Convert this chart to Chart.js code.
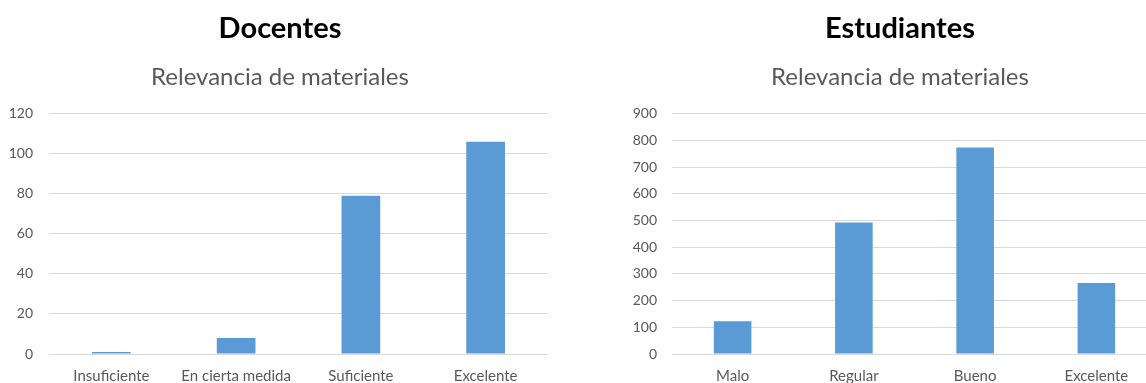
<!DOCTYPE html>
<html>
<head>
<meta charset="utf-8">
<script src="https://cdn.jsdelivr.net/npm/chart.js@4/dist/chart.umd.min.js"></script>
<style>
  html, body { margin: 0; padding: 0; width: 1146px; height: 383px; overflow: hidden; background: #fff; }
  .box { position: absolute; top: 0; height: 383px; }
  #b1 { left: 0; width: 560px; }
  #b2 { left: 631px; width: 538px; }
</style>
</head>
<body>
<div class="box" id="b1"><canvas id="c1"></canvas></div>
<div class="box" id="b2"><canvas id="c2"></canvas></div>
<script>
const docentesTitle = "Docentes";
const estudiantesTitle = "Estudiantes";
const subtitleText = "Relevancia de materiales";
const docentesCategories = ["Insuficiente", "En cierta medida", "Suficiente", "Excelente"];
const docentesValues = [1, 8, 79, 106];
const docentesTicks = { min: 0, max: 120, step: 20 };
const estudiantesCategories = ["Malo", "Regular", "Bueno", "Excelente"];
const estudiantesValues = [123, 492, 773, 266];
const estudiantesTicks = { min: 0, max: 900, step: 100 };

const FONT = "Lato, 'Open Sans', sans-serif";
const BAR = "#5B9BD5";
const GRID = "#D9D9D9";
const TXT = "#595959";

function makeChart(id, title, cats, vals, tk, yWidth, tickPad) {
  return new Chart(document.getElementById(id), {
    type: 'bar',
    data: {
      labels: cats,
      datasets: [{ data: vals, backgroundColor: BAR, borderWidth: 0,
                   categoryPercentage: 1, barPercentage: 0.31 }]
    },
    options: {
      responsive: true, maintainAspectRatio: false, animation: false,
      layout: { padding: { left: 12, right: 12, top: 0, bottom: 0 } },
      plugins: {
        legend: { display: false }, tooltip: { enabled: false },
        title: { display: true, text: title, color: '#000',
                 font: { family: FONT, size: 29, weight: 'bold' },
                 padding: { top: 11, bottom: 17 } },
        subtitle: { display: true, text: subtitleText, color: TXT,
                    font: { family: FONT, size: 24, weight: 'normal' },
                    padding: { top: 0, bottom: 22 } }
      },
      scales: {
        x: {
          grid: { display: false, drawTicks: false },
          border: { display: false },
          ticks: { color: TXT, font: { family: FONT, size: 15 }, padding: 13, maxRotation: 0, autoSkip: false },
          afterFit: s => { s.height = 29; }
        },
        y: {
          min: tk.min, max: tk.max,
          grid: { color: GRID, lineWidth: 1, drawTicks: false },
          border: { display: false },
          ticks: { stepSize: tk.step, color: TXT, font: { family: FONT, size: 14 }, padding: tickPad },
          afterFit: s => { s.width = yWidth; s._computeLabelArea = () => null; }
        }
      }
    }
  });
}

makeChart('c1', docentesTitle, docentesCategories, docentesValues, docentesTicks, 37, 16);
makeChart('c2', estudiantesTitle, estudiantesCategories, estudiantesValues, estudiantesTicks, 29, 15);
</script>
</body>
</html>
